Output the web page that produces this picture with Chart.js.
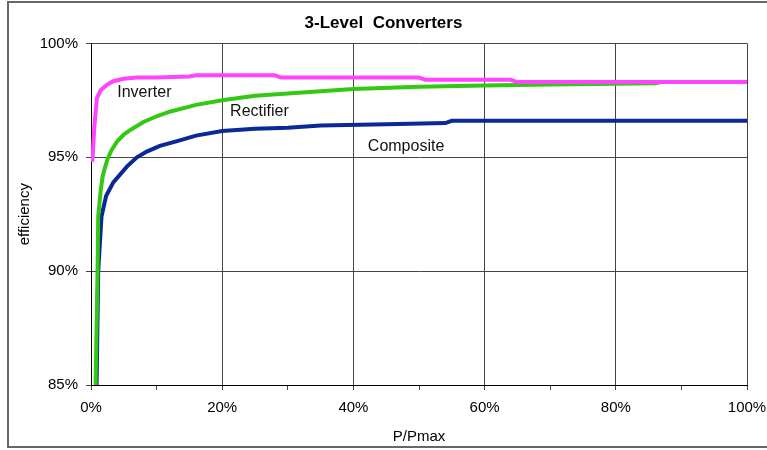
<!DOCTYPE html>
<html>
<head>
<meta charset="utf-8">
<script src="https://cdn.jsdelivr.net/npm/chart.js@4"></script>
<style>
  body { margin: 0; background: #fff; }
</style>
</head>
<body>
<canvas id="myChart" width="767" height="450"></canvas>
<script>
const ctx = document.getElementById('myChart');

// P/Pmax (%) and efficiency (%) for each converter
const inverterX = [0.2, 0.5, 0.9, 1.5, 2.5, 3.5, 5, 7, 10, 15, 16, 28, 29, 50, 51, 64, 65, 100];
const inverterY = [94.8, 96.3, 97.6, 97.95, 98.2, 98.35, 98.45, 98.5, 98.5, 98.55, 98.6, 98.6, 98.5, 98.5, 98.4, 98.4, 98.3, 98.3];

const rectifierX = [0.7, 1.0, 1.1, 1.5, 1.8, 2.5, 3.1, 4, 5, 6, 8, 10, 12, 16, 20, 25, 30, 35, 40, 50, 60, 70, 86, 87, 100];
const rectifierY = [85, 90, 92.4, 93.6, 94.2, 94.9, 95.3, 95.7, 96.0, 96.2, 96.55, 96.8, 97.0, 97.3, 97.5, 97.7, 97.8, 97.9, 98.0, 98.1, 98.15, 98.2, 98.25, 98.3, 98.3];

const compositeX = [0.85, 1.1, 1.6, 2.3, 3.4, 5.5, 7, 8.5, 10.5, 13, 16, 20, 25, 30, 35, 45, 54, 55, 100];
const compositeY = [85, 90, 92.4, 93.3, 93.9, 94.6, 95.0, 95.25, 95.5, 95.7, 95.95, 96.15, 96.25, 96.3, 96.4, 96.45, 96.5, 96.6, 96.6];

const seriesNames = ['Inverter', 'Rectifier', 'Composite'];
const seriesColors = ['#ff44ff', '#33c814', '#0a2896'];

// where the in-plot labels sit (data coords: left edge, vertical middle)
const labelX = [4.0, 21.2, 42.2];
const labelY = [97.85, 97.02, 95.48];

function toPoints(xs, ys) {
  return xs.map((x, i) => ({x: x, y: ys[i]}));
}

const frame = {
  id: 'frame',
  beforeDraw(chart) {
    const c = chart.ctx;
    c.save();
    c.fillStyle = '#fff';
    c.fillRect(0, 0, chart.width, chart.height);
    c.strokeStyle = '#666';
    c.lineWidth = 2;
    c.strokeRect(8, 2, 780, 445);
    c.restore();
  }
};

const seriesLabels = {
  id: 'seriesLabels',
  afterDatasetsDraw(chart) {
    const c = chart.ctx;
    const xs = chart.scales.x, ys = chart.scales.y;
    c.save();
    c.font = '16px "Liberation Sans", Arial, sans-serif';
    c.fillStyle = '#111';
    c.textAlign = 'left';
    c.textBaseline = 'middle';
    seriesNames.forEach((name, i) => {
      c.fillText(name, xs.getPixelForValue(labelX[i]), ys.getPixelForValue(labelY[i]));
    });
    c.restore();
  }
};

Chart.defaults.font.family = '"Liberation Sans", Arial, sans-serif';
Chart.defaults.color = '#000';

new Chart(ctx, {
  type: 'line',
  data: {
    datasets: [
      {label: seriesNames[0], data: toPoints(inverterX, inverterY)},
      {label: seriesNames[1], data: toPoints(rectifierX, rectifierY)},
      {label: seriesNames[2], data: toPoints(compositeX, compositeY)}
    ].map((d, i) => Object.assign(d, {
      borderColor: seriesColors[i],
      backgroundColor: seriesColors[i],
      borderWidth: 4,
      pointRadius: 0,
      tension: 0,
      fill: false
    }))
  },
  options: {
    responsive: false,
    animation: false,
    devicePixelRatio: 1,
    layout: { padding: 0 },
    plugins: {
      legend: { display: false },
      tooltip: { enabled: false },
      title: {
        display: true,
        text: '3-Level  Converters',
        font: { size: 17, weight: 'bold' },
        color: '#000',
        padding: { top: 13, bottom: 10 }
      }
    },
    scales: {
      x: {
        type: 'linear',
        min: 0,
        max: 100,
        ticks: {
          stepSize: 10,
          autoSkip: false,
          maxRotation: 0,
          padding: 9,
          font: { size: 15 },
          callback: v => (v % 20 === 0 ? v + '%' : '')
        },
        grid: {
          color: c => (c.tick && c.tick.value % 20 === 0 ? '#444' : 'rgba(0,0,0,0)'),
          tickColor: '#444',
          tickLength: 5,
          lineWidth: 1
        },
        border: { color: '#000', width: 1 },
        title: {
          display: true,
          text: 'P/Pmax',
          font: { size: 15 },
          padding: { top: 0, bottom: 4 }
        },
        afterFit(scale) {
          scale.height = 65;
          scale.paddingRight = 20;
        }
      },
      y: {
        min: 85,
        max: 100,
        ticks: {
          stepSize: 5,
          padding: 8,
          font: { size: 15 },
          callback: v => v + '%'
        },
        grid: {
          color: '#444',
          tickColor: '#444',
          tickLength: 5,
          lineWidth: 1
        },
        border: { color: '#000', width: 1 },
        title: {
          display: true,
          text: 'efficiency',
          font: { size: 15 },
          padding: { top: 16, bottom: 0 }
        },
        afterFit(scale) {
          scale.width = 91;
        }
      }
    }
  },
  plugins: [frame, seriesLabels]
});
</script>
</body>
</html>
